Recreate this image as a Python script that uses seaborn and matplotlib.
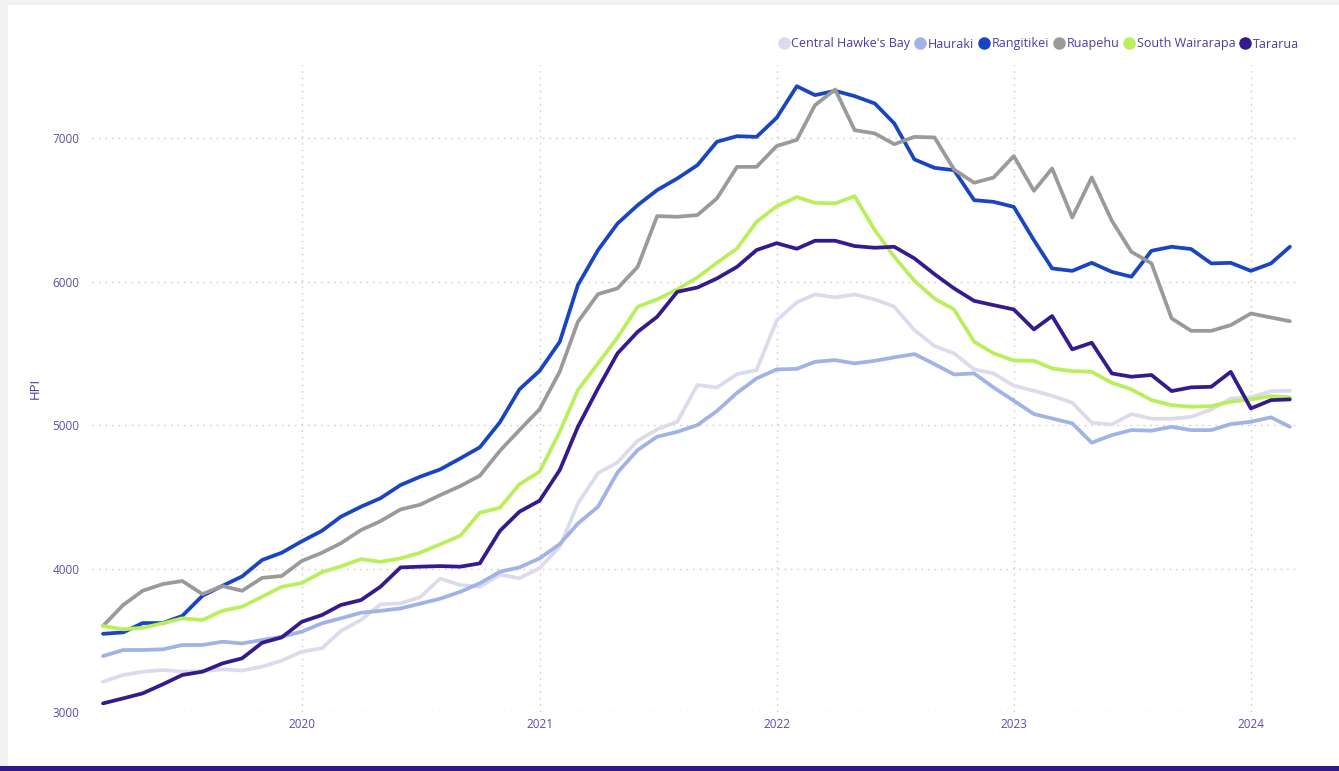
import numpy as np
import pandas as pd
import matplotlib.pyplot as plt
import matplotlib.dates as mdates
from matplotlib.lines import Line2D
from matplotlib.patches import Rectangle
import seaborn as sns

# monthly HPI, Mar 2019 - Mar 2024
months = pd.date_range("2019-03-01", periods=61, freq="MS")

central_hawkes_bay = [
    3211, 3258, 3281, 3293, 3281, 3286, 3297, 3289, 3316, 3358,
    3421, 3444, 3565, 3641, 3750, 3757, 3800, 3930, 3885, 3873, 3957, 3932,
    4003, 4152, 4454, 4665, 4740, 4891, 4970, 5024, 5279, 5262, 5355, 5383,
    5730, 5855, 5911, 5890, 5911, 5876, 5825, 5662, 5551, 5500, 5388, 5360,
    5275, 5239, 5204, 5156, 5016, 5004, 5077, 5044, 5044, 5058, 5109, 5186,
    5193, 5237, 5239,
]
hauraki = [
    3390, 3432, 3432, 3437, 3467, 3467, 3490, 3478, 3502, 3525,
    3560, 3618, 3653, 3692, 3705, 3722, 3755, 3790, 3838, 3897, 3978, 4008,
    4071, 4170, 4314, 4431, 4670, 4826, 4919, 4953, 5000, 5098, 5225, 5325,
    5388, 5392, 5441, 5453, 5430, 5448, 5472, 5495, 5425, 5353, 5360, 5262,
    5170, 5077, 5046, 5012, 4877, 4930, 4965, 4961, 4988, 4965, 4965, 5007,
    5023, 5054, 4988,
]
rangitikei = [
    3545, 3555, 3620, 3620, 3670, 3810, 3880, 3945, 4060, 4110,
    4190, 4263, 4361, 4431, 4490, 4582, 4640, 4691, 4768, 4845, 5020, 5249,
    5378, 5580, 5976, 6220, 6405, 6533, 6638, 6719, 6812, 6975, 7014, 7009,
    7142, 7362, 7300, 7330, 7293, 7242, 7103, 6852, 6793, 6777, 6568, 6556,
    6521, 6289, 6092, 6075, 6131, 6068, 6034, 6215, 6243, 6227, 6127, 6131,
    6075, 6127, 6243,
]
ruapehu = [
    3600, 3746, 3845, 3892, 3913, 3822, 3878, 3845, 3935, 3948,
    4053, 4110, 4176, 4268, 4330, 4412, 4445, 4512, 4575, 4647, 4821, 4965,
    5110, 5372, 5720, 5913, 5953, 6103, 6457, 6452, 6464, 6580, 6800, 6800,
    6945, 6988, 7230, 7339, 7056, 7033, 6958, 7009, 7005, 6782, 6689, 6726,
    6875, 6633, 6789, 6447, 6726, 6424, 6208, 6127, 5744, 5657, 5657, 5697,
    5778, 5750, 5724,
]
south_wairarapa = [
    3600, 3576, 3587, 3618, 3653, 3641, 3706, 3734, 3804, 3873,
    3899, 3975, 4015, 4066, 4047, 4071, 4110, 4169, 4229, 4389, 4424, 4587,
    4675, 4953, 5244, 5430, 5610, 5825, 5876, 5946, 6029, 6131, 6231, 6417,
    6525, 6590, 6549, 6545, 6596, 6359, 6173, 6006, 5882, 5806, 5581, 5500,
    5450, 5448, 5395, 5376, 5371, 5295, 5249, 5174, 5139, 5128, 5132, 5163,
    5179, 5202, 5193,
]
tararua = [
    3060, 3095, 3130, 3193, 3258, 3281, 3339, 3374, 3483, 3520,
    3629, 3676, 3746, 3780, 3873, 4008, 4013, 4017, 4013, 4036, 4263, 4396,
    4473, 4686, 4988, 5256, 5500, 5650, 5755, 5929, 5959, 6022, 6103, 6220,
    6268, 6229, 6285, 6285, 6248, 6236, 6243, 6162, 6052, 5953, 5866, 5836,
    5806, 5667, 5760, 5528, 5574, 5360, 5337, 5349, 5237, 5263, 5267, 5371,
    5116, 5174, 5179,
]

regions = ["Central Hawke's Bay", "Hauraki", "Rangitikei", "Ruapehu",
           "South Wairarapa", "Tararua"]
series = [central_hawkes_bay, hauraki, rangitikei, ruapehu, south_wairarapa, tararua]
colors = ["#dcdbee", "#a0b3e6", "#1a45c2", "#9a9a9a", "#b9ef5b", "#35198e"]
palette = dict(zip(regions, colors))

df = pd.concat(
    [pd.DataFrame({"month": months, "HPI": vals, "region": name})
     for name, vals in zip(regions, series)],
    ignore_index=True,
)

sns.set_style("white")
plt.rcParams["font.family"] = ["Open Sans", "DejaVu Sans"]
text_col = "#4b3c9e"
tick_col = "#5a4ca8"

fig = plt.figure(figsize=(13.39, 7.71), dpi=100, facecolor="#f2f2f2")
# white card + purple bar at the bottom
fig.patches.append(Rectangle((8 / 1339, 5 / 771), 1, 1 - 10 / 771,
                             transform=fig.transFigure, facecolor="white",
                             edgecolor="none", zorder=-2))
fig.patches.append(Rectangle((0, 0), 1, 5 / 771, transform=fig.transFigure,
                             facecolor="#2f1a86", edgecolor="none", zorder=-1))

ax = fig.add_axes([92 / 1339, 1 - 712 / 771, (1297 - 92) / 1339, (712 - 65) / 771])
ax.set_facecolor("none")

sns.lineplot(data=df, x="month", y="HPI", hue="region", palette=palette,
             hue_order=regions, linewidth=2.7, ax=ax, legend=False, zorder=3)

ax.set_xlim(pd.Timestamp("2019-02-12"), pd.Timestamp("2024-03-12"))
ax.set_ylim(3000, 7510)
ax.set_yticks([3000, 4000, 5000, 6000, 7000])
ax.xaxis.set_major_locator(mdates.YearLocator())
ax.xaxis.set_major_formatter(mdates.DateFormatter("%Y"))

ax.grid(True, color="#cfcfcf", linestyle=(0, (1.2, 3.5)), linewidth=1.0, zorder=0)
for s in ax.spines.values():
    s.set_visible(False)
ax.tick_params(axis="both", length=0, labelsize=8.5, labelcolor=tick_col)
ax.tick_params(axis="y", pad=9)
ax.tick_params(axis="x", pad=4)
ax.set_xlabel("")
ax.set_ylabel("HPI", color=text_col, fontsize=9.5, labelpad=8)

handles = [Line2D([], [], marker="o", linestyle="none", markersize=8,
                  markerfacecolor=c, markeredgecolor=c) for c in colors]
fig.legend(handles, regions, loc="center right", bbox_to_anchor=(1304 / 1339, 1 - 44 / 771),
           ncol=6, frameon=False, fontsize=9, labelcolor=text_col,
           handletextpad=0.1, columnspacing=0.3, handlelength=1.0, borderaxespad=0)

fig.savefig("out.png", dpi=100, facecolor=fig.get_facecolor())
